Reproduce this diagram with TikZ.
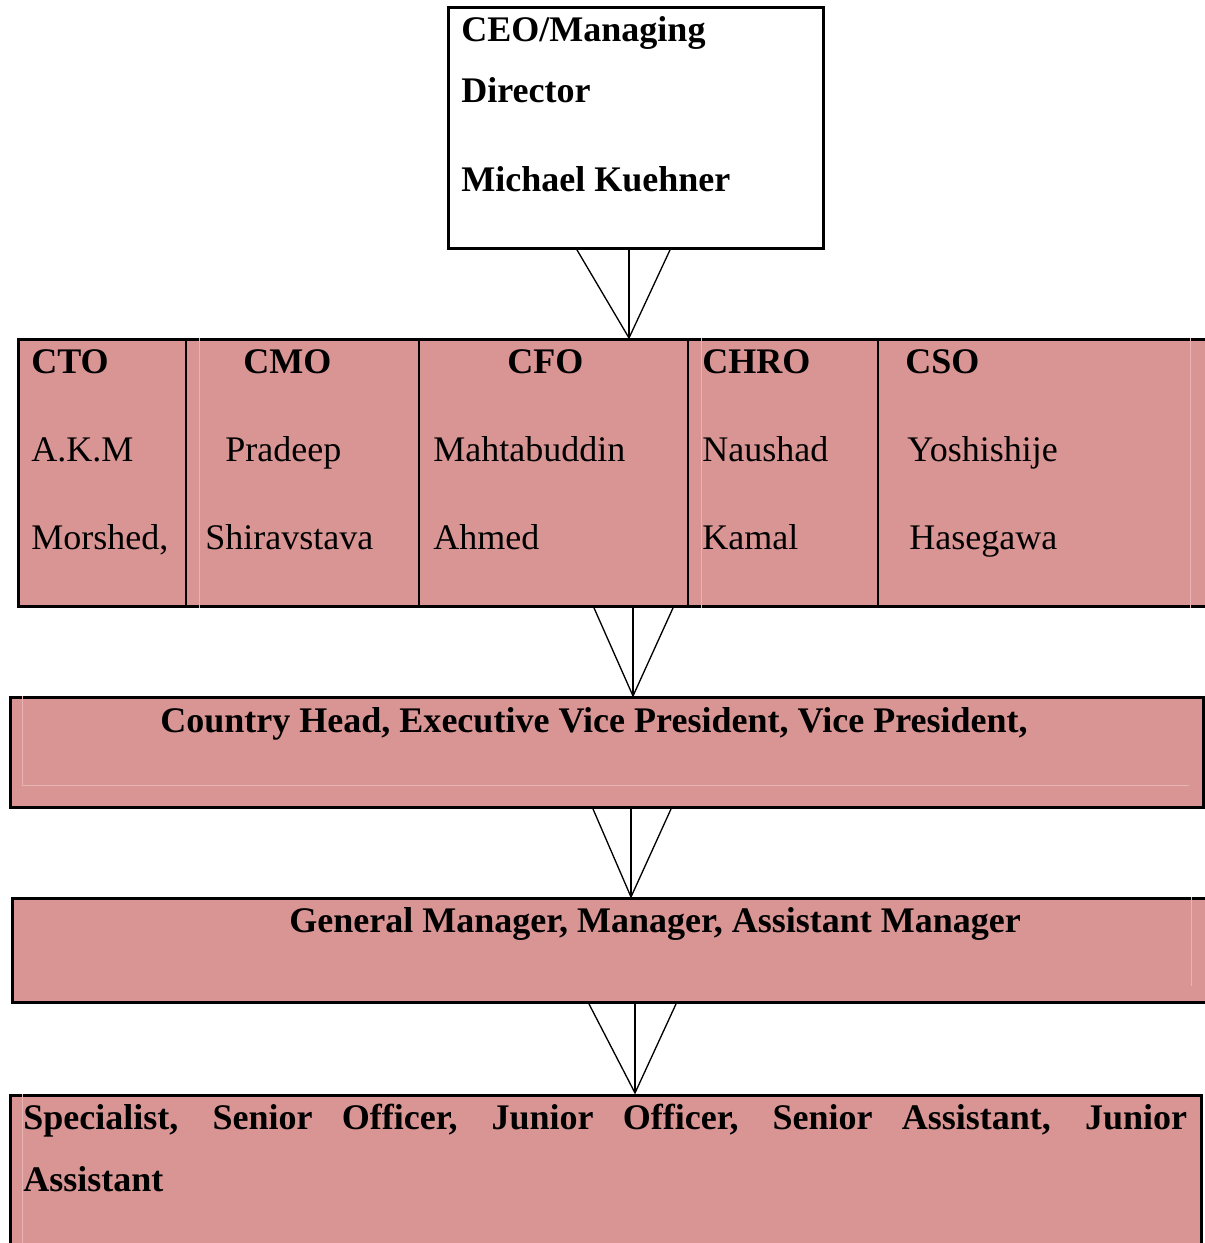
\documentclass[tikz,border=0pt]{standalone}
\usepackage{fontspec}
\setmainfont{Liberation Serif}

\definecolor{boxpink}{HTML}{D99594}
\definecolor{faintpink}{HTML}{E6B4B3}

\begin{document}
\begin{tikzpicture}[x=0.02cm, y=-0.02cm,
    box/.style={draw=black, line width=1.7pt, anchor=north west, inner sep=0pt},
    tier/.style={box, fill=boxpink},
    txt/.style={anchor=base west, inner sep=0pt, font=\fontsize{20.5}{24}\selectfont},
    hd/.style={txt, font=\fontsize{20.5}{24}\selectfont\bfseries},
    stem/.style={line width=1.1pt},
    leg/.style={line width=0.75pt},
    cell/.style={line width=1.2pt},
    faint/.style={draw=faintpink, line width=0.5pt}]
    \useasboundingbox (0,0) rectangle (1204,1243);

    \node[box, minimum width=7.5cm, minimum height=4.82cm] (ceo) at (447,6) {};
    \node[tier, minimum width=24.2cm, minimum height=5.34cm] (exec) at (17,338) {};
    \node[tier, minimum width=23.86cm, minimum height=2.2cm] (country) at (9,696) {};
    \node[tier, minimum width=24.3cm, minimum height=2.08cm] (gm) at (11,897) {};
    \node[tier, minimum width=23.82cm, minimum height=3.4cm] (staff) at (9,1094) {};

    \draw[faint] (exec.north -| 199,0) -- (exec.south -| 199,0);
    \draw[faint] (exec.north -| 701,0) -- (exec.south -| 701,0);
    \draw[faint] (exec.north -| 1190,0) -- (exec.south -| 1190,0);
    \draw[faint] (country.north -| 22,0) -- (22,785) -- (1189,785);
    \draw[faint] (gm.north -| 1191,0) -- (1191,986);
    \draw[faint] (staff.north -| 22,0) -- (22,1243);

    \draw[cell] (exec.north -| 186,0) -- (exec.south -| 186,0);
    \draw[cell] (exec.north -| 419,0) -- (exec.south -| 419,0);
    \draw[cell] (exec.north -| 688,0) -- (exec.south -| 688,0);
    \draw[cell] (exec.north -| 878,0) -- (exec.south -| 878,0);

    \node[hd] (ceoA) at (461,42) {CEO/Managing};
    \node[hd] (ceoB) at (461,103) {Director};
    \node[hd] (ceoC) at (461,192) {Michael Kuehner};

    \node[hd] (cto) at (31,373) {CTO};
    \node[txt] (ctoA) at (31,461) {A.K.M};
    \node[txt] (ctoB) at (31,549) {Morshed,};
    \node[hd] (cmo) at (243,373) {CMO};
    \node[txt] (cmoA) at (225,461) {Pradeep};
    \node[txt] (cmoB) at (205,549) {Shiravstava};
    \node[hd] (cfo) at (507,373) {CFO};
    \node[txt] (cfoA) at (433,461) {Mahtabuddin};
    \node[txt] (cfoB) at (433,549) {Ahmed};
    \node[hd] (chro) at (702,373) {CHRO};
    \node[txt] (chroA) at (702,461) {Naushad};
    \node[txt] (chroB) at (702,549) {Kamal};
    \node[hd] (cso) at (905,373) {CSO};
    \node[txt] (csoA) at (907,461) {Yoshishije};
    \node[txt] (csoB) at (909,549) {Hasegawa};

    \node[hd] (countryT) at (160,732) {Country Head, Executive Vice President, Vice President,};
    \node[hd] (gmT) at (289,932) {General Manager, Manager, Assistant Manager};
    \node[hd, anchor=north west, text width=23.28cm, align=justify,
          font=\fontsize{20.5}{35.3}\selectfont\bfseries] (staffT) at (23,1104)
      {Specialist, Senior Officer, Junior Officer, Senior Assistant, Junior\linebreak Assistant};

    % links between tiers
    \coordinate (tip1) at (629,338);
    \coordinate (tip2) at (633,696);
    \coordinate (tip3) at (631,897);
    \coordinate (tip4) at (635,1093);
    \draw[stem] (ceo.south -| tip1) -- (tip1);
    \draw[leg] (ceo.south -| 577,0) -- (tip1) -- (ceo.south -| 670,0);
    \draw[stem] (exec.south -| tip2) -- (tip2);
    \draw[leg] (exec.south -| 594,0) -- (tip2) -- (exec.south -| 673,0);
    \draw[stem] (country.south -| tip3) -- (tip3);
    \draw[leg] (country.south -| 593,0) -- (tip3) -- (country.south -| 671,0);
    \draw[stem] (gm.south -| tip4) -- (tip4);
    \draw[leg] (gm.south -| 589,0) -- (tip4) -- (gm.south -| 676,0);
\end{tikzpicture}
\end{document}
